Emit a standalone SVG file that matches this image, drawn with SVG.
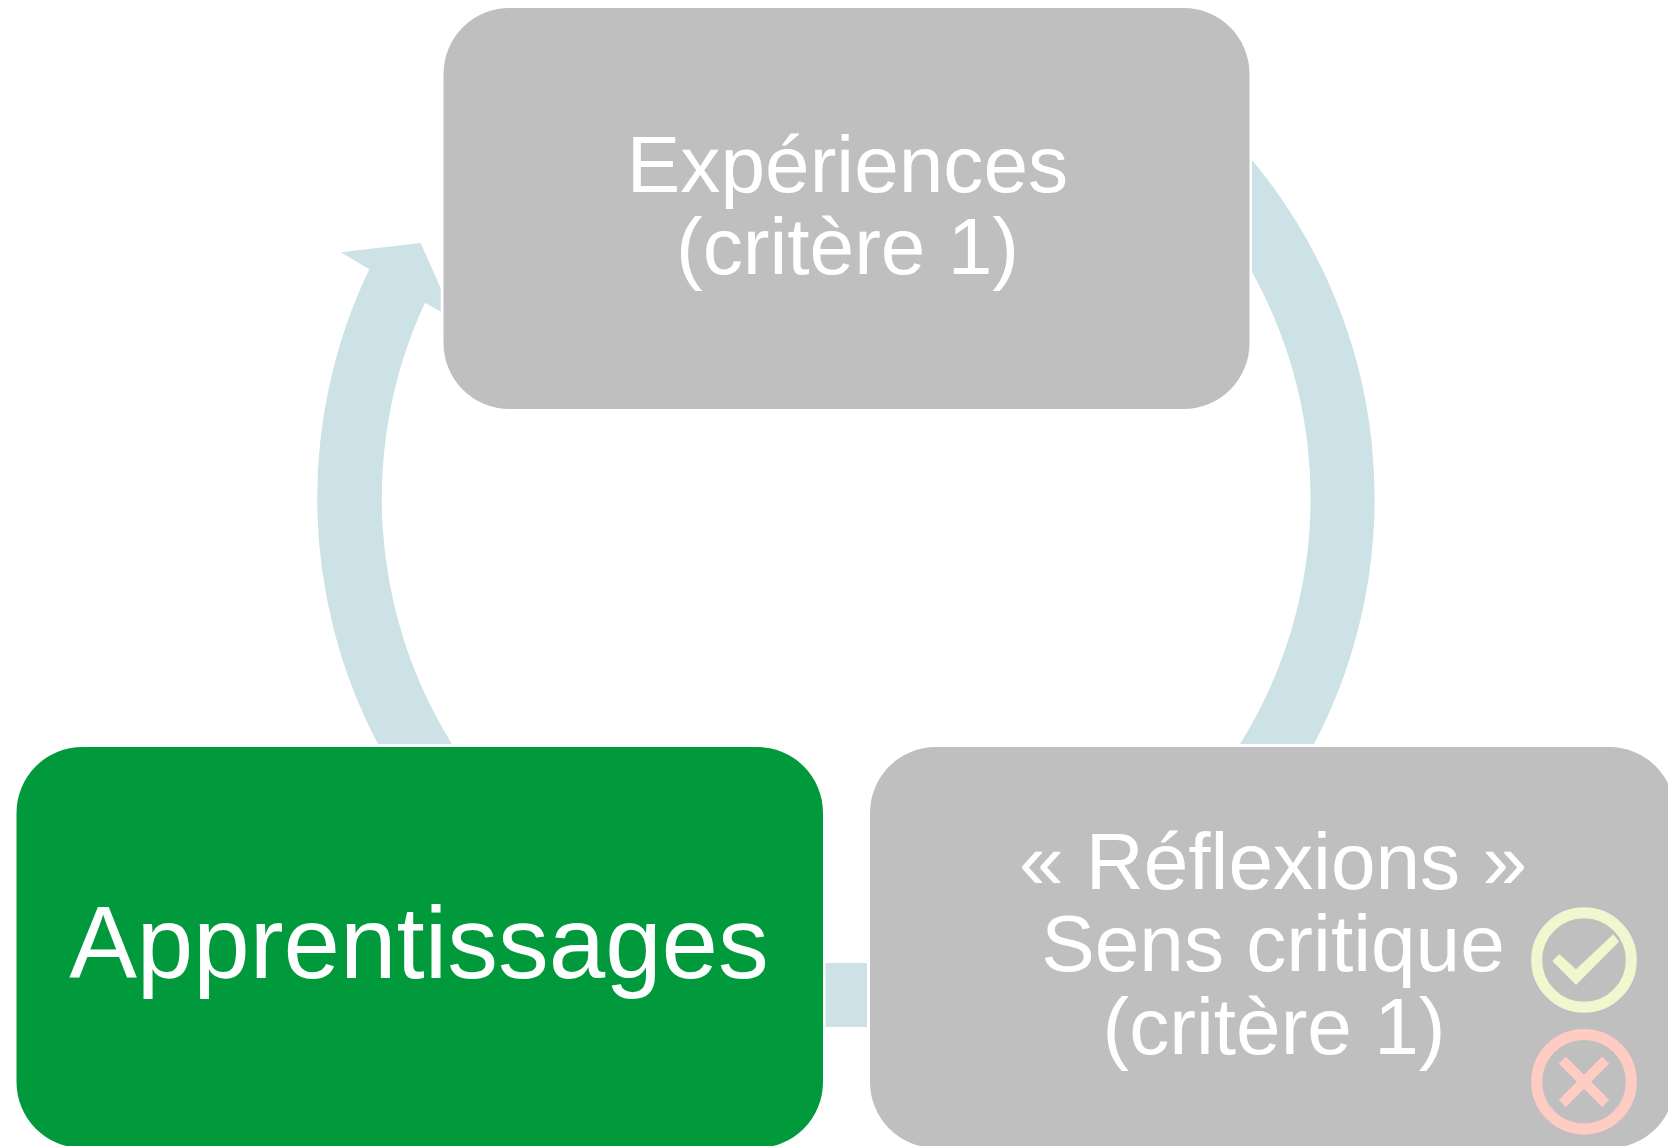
<svg xmlns="http://www.w3.org/2000/svg" width="1668" height="1146" viewBox="0 0 1668 1146">
<style>
.box{fill:#BFBFBF}
.green{fill:#009A3C}
.conn{fill:#CCE2E6}
text{font-family:"Liberation Sans",Arial,sans-serif;fill:#fff;text-anchor:middle}
.t{font-size:80.200px}
.big{font-size:101.500px}
.ok{fill:none;stroke:#EEF7CE;stroke-width:11}
.ko{fill:none;stroke:#FFCCC4;stroke-width:11}
.x{fill:none;stroke:#FFCCC4;stroke-width:10}
</style>
<rect width="1668" height="1146" fill="#fff"/>
<g id="connectors">
<path class="conn" d="M1252 160A528 528 0 0 1 1314 744L1240 744A464.500 464.500 0 0 0 1252 272Z"/>
<path class="conn" d="M825.500 963H867V1027H825.500Z"/>
<path class="conn" d="M378 744A528 528 0 0 1 369.300 269.300L340.700 252.300L420.700 243L440.700 288.300L440.700 311.700L425 302.700A464.500 464.500 0 0 0 452 744Z"/>
</g>
<g id="node-experiences">
<rect class="box" x="443.500" y="8" width="806" height="401" rx="66"/>
<text class="t" x="847.500" y="191.500">Expériences</text>
<text class="t" x="847.500" y="273.500">(critère 1)</text>
</g>
<g id="node-apprentissages">
<rect class="green" x="16.500" y="747" width="806.500" height="401" rx="66"/>
<text class="big" x="419" y="978">Apprentissages</text>
</g>
<g id="node-reflexions">
<rect class="box" x="870" y="747" width="805" height="401" rx="66"/>
<text class="t" x="1273" y="888.500">« Réflexions »</text>
<text class="t" x="1273" y="971">Sens critique</text>
<text class="t" x="1274" y="1053.500">(critère 1)</text>
<g id="icon-check">
<circle class="ok" cx="1584" cy="960" r="47.300"/>
<path fill="#EEF7CE" d="M1552.300 961L1559.300 954L1576 969.300L1613.300 934.300L1619 941.700L1576 985Z"/>
</g>
<g id="icon-cross">
<circle class="ko" cx="1584" cy="1081.700" r="47.300"/>
<path class="x" d="M1562.300 1060L1605.700 1103.400M1605.700 1060L1562.300 1103.400"/>
</g>
</g>
</svg>
